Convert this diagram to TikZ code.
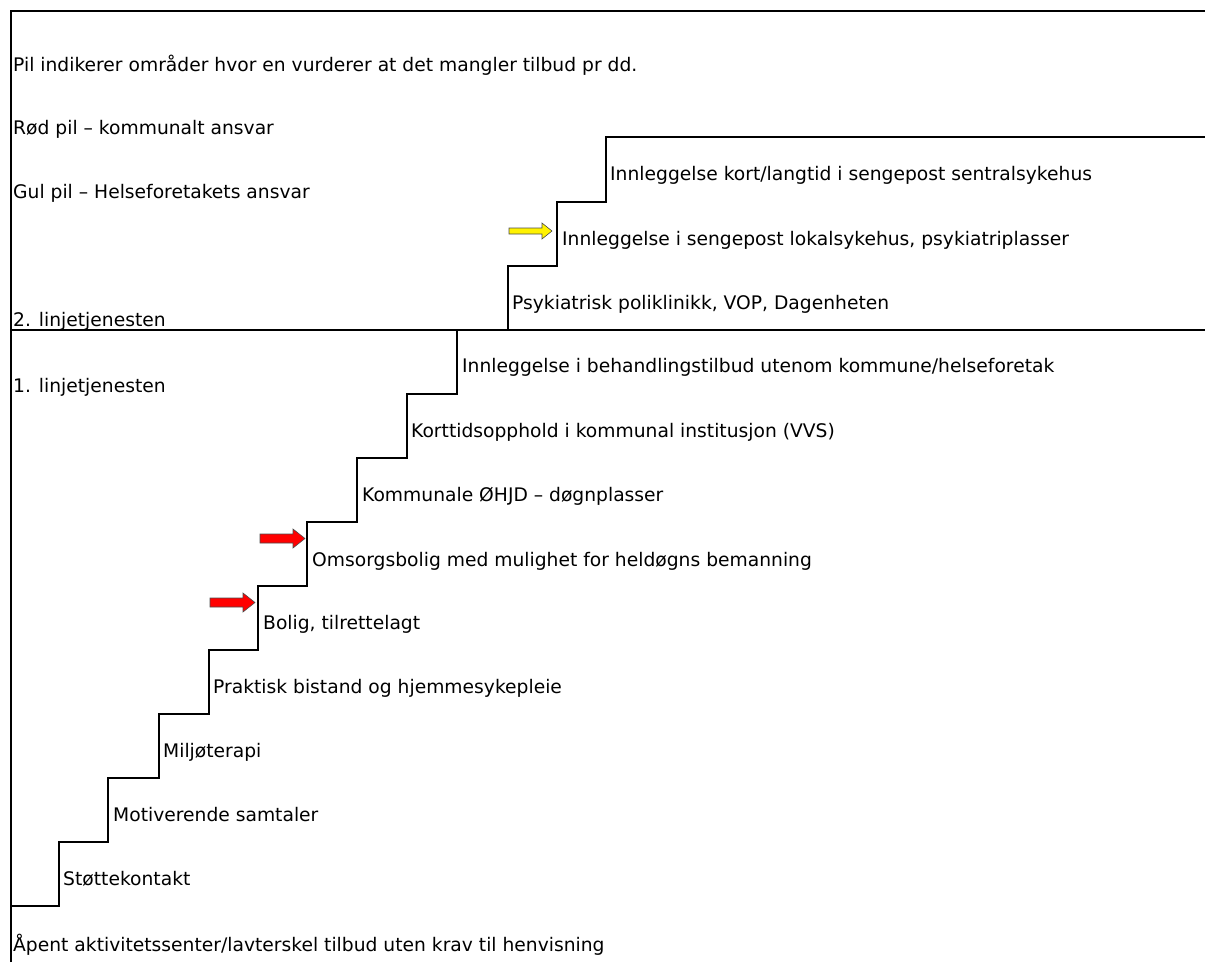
\documentclass[tikz,border=0pt]{standalone}
\usepackage{fontspec}
\setmainfont{DejaVu Sans}
\begin{document}
\begin{tikzpicture}[x=1pt,y=-1pt,
  lbl/.style={anchor=base west,inner sep=0pt,font=\fontsize{18.7}{22}\selectfont},
  stair/.style={line width=2pt,line join=miter,black},
  frame/.style={line width=1.8pt,black},
  redarrow/.style={fill=red,draw=black!70,line width=0.6pt},
  yelarrow/.style={fill=yellow,draw=black!70,line width=0.6pt}]
\useasboundingbox (0,0) rectangle (1205,962);
% frame
\draw[frame] (11,962) -- (11,11) -- (1205,11);
\draw[frame] (11,330) -- (1205,330);
% upper stairs
\draw[stair] (508,330) -- (508,266) -- (557,266) -- (557,202) -- (606,202) -- (606,137) -- (1205,137);
% lower stairs
\draw[stair] (11,906) -- (59,906) -- (59,842) -- (108,842) -- (108,778) -- (159,778) -- (159,714)
  -- (209,714) -- (209,650) -- (258,650) -- (258,586) -- (307,586) -- (307,522) -- (357,522)
  -- (357,458) -- (407,458) -- (407,394) -- (457,394) -- (457,330);
% left texts
\node[lbl] (pil) at (13,71) {Pil indikerer områder hvor en vurderer at det mangler tilbud pr dd.};
\node[lbl] (rod) at (13,134) {Rød pil – kommunalt ansvar};
\node[lbl] (gul) at (13,198) {Gul pil – Helseforetakets ansvar};
\node[lbl] (l2) at (13,326) {2. linjetjenesten};
\node[lbl] (l1) at (13,392) {1. linjetjenesten};
\node[lbl] (apent) at (13,951) {Åpent aktivitetssenter/lavterskel tilbud uten krav til henvisning};
% step labels
\node[lbl] (s1) at (63,885) {Støttekontakt};
\node[lbl] (s2) at (113,821) {Motiverende samtaler};
\node[lbl] (s3) at (163,757) {Miljøterapi};
\node[lbl] (s4) at (213,693) {Praktisk bistand og hjemmesykepleie};
\node[lbl] (s5) at (263,629) {Bolig, tilrettelagt};
\node[lbl] (s6) at (312,566) {Omsorgsbolig med mulighet for heldøgns bemanning};
\node[lbl] (s7) at (362,501) {Kommunale ØHJD – døgnplasser};
\node[lbl] (s8) at (411,437) {Korttidsopphold i kommunal institusjon (VVS)};
\node[lbl] (s9) at (462,372) {Innleggelse i behandlingstilbud utenom kommune/helseforetak};
\node[lbl] (u1) at (512,309) {Psykiatrisk poliklinikk, VOP, Dagenheten};
\node[lbl] (u2) at (562,245) {Innleggelse i sengepost lokalsykehus, psykiatriplasser};
\node[lbl] (u3) at (610,180) {Innleggelse kort/langtid i sengepost sentralsykehus};
% arrows
\draw[redarrow] (260,534) -- (293,534) -- (293,529) -- (305,538.5) -- (293,548) -- (293,543) -- (260,543) -- cycle;
\draw[redarrow] (210,598) -- (243,598) -- (243,593) -- (255,602.5) -- (243,612) -- (243,607) -- (210,607) -- cycle;
\draw[yelarrow] (509,228) -- (542,228) -- (542,223) -- (552,231) -- (542,239) -- (542,234) -- (509,234) -- cycle;
\end{tikzpicture}
\end{document}
